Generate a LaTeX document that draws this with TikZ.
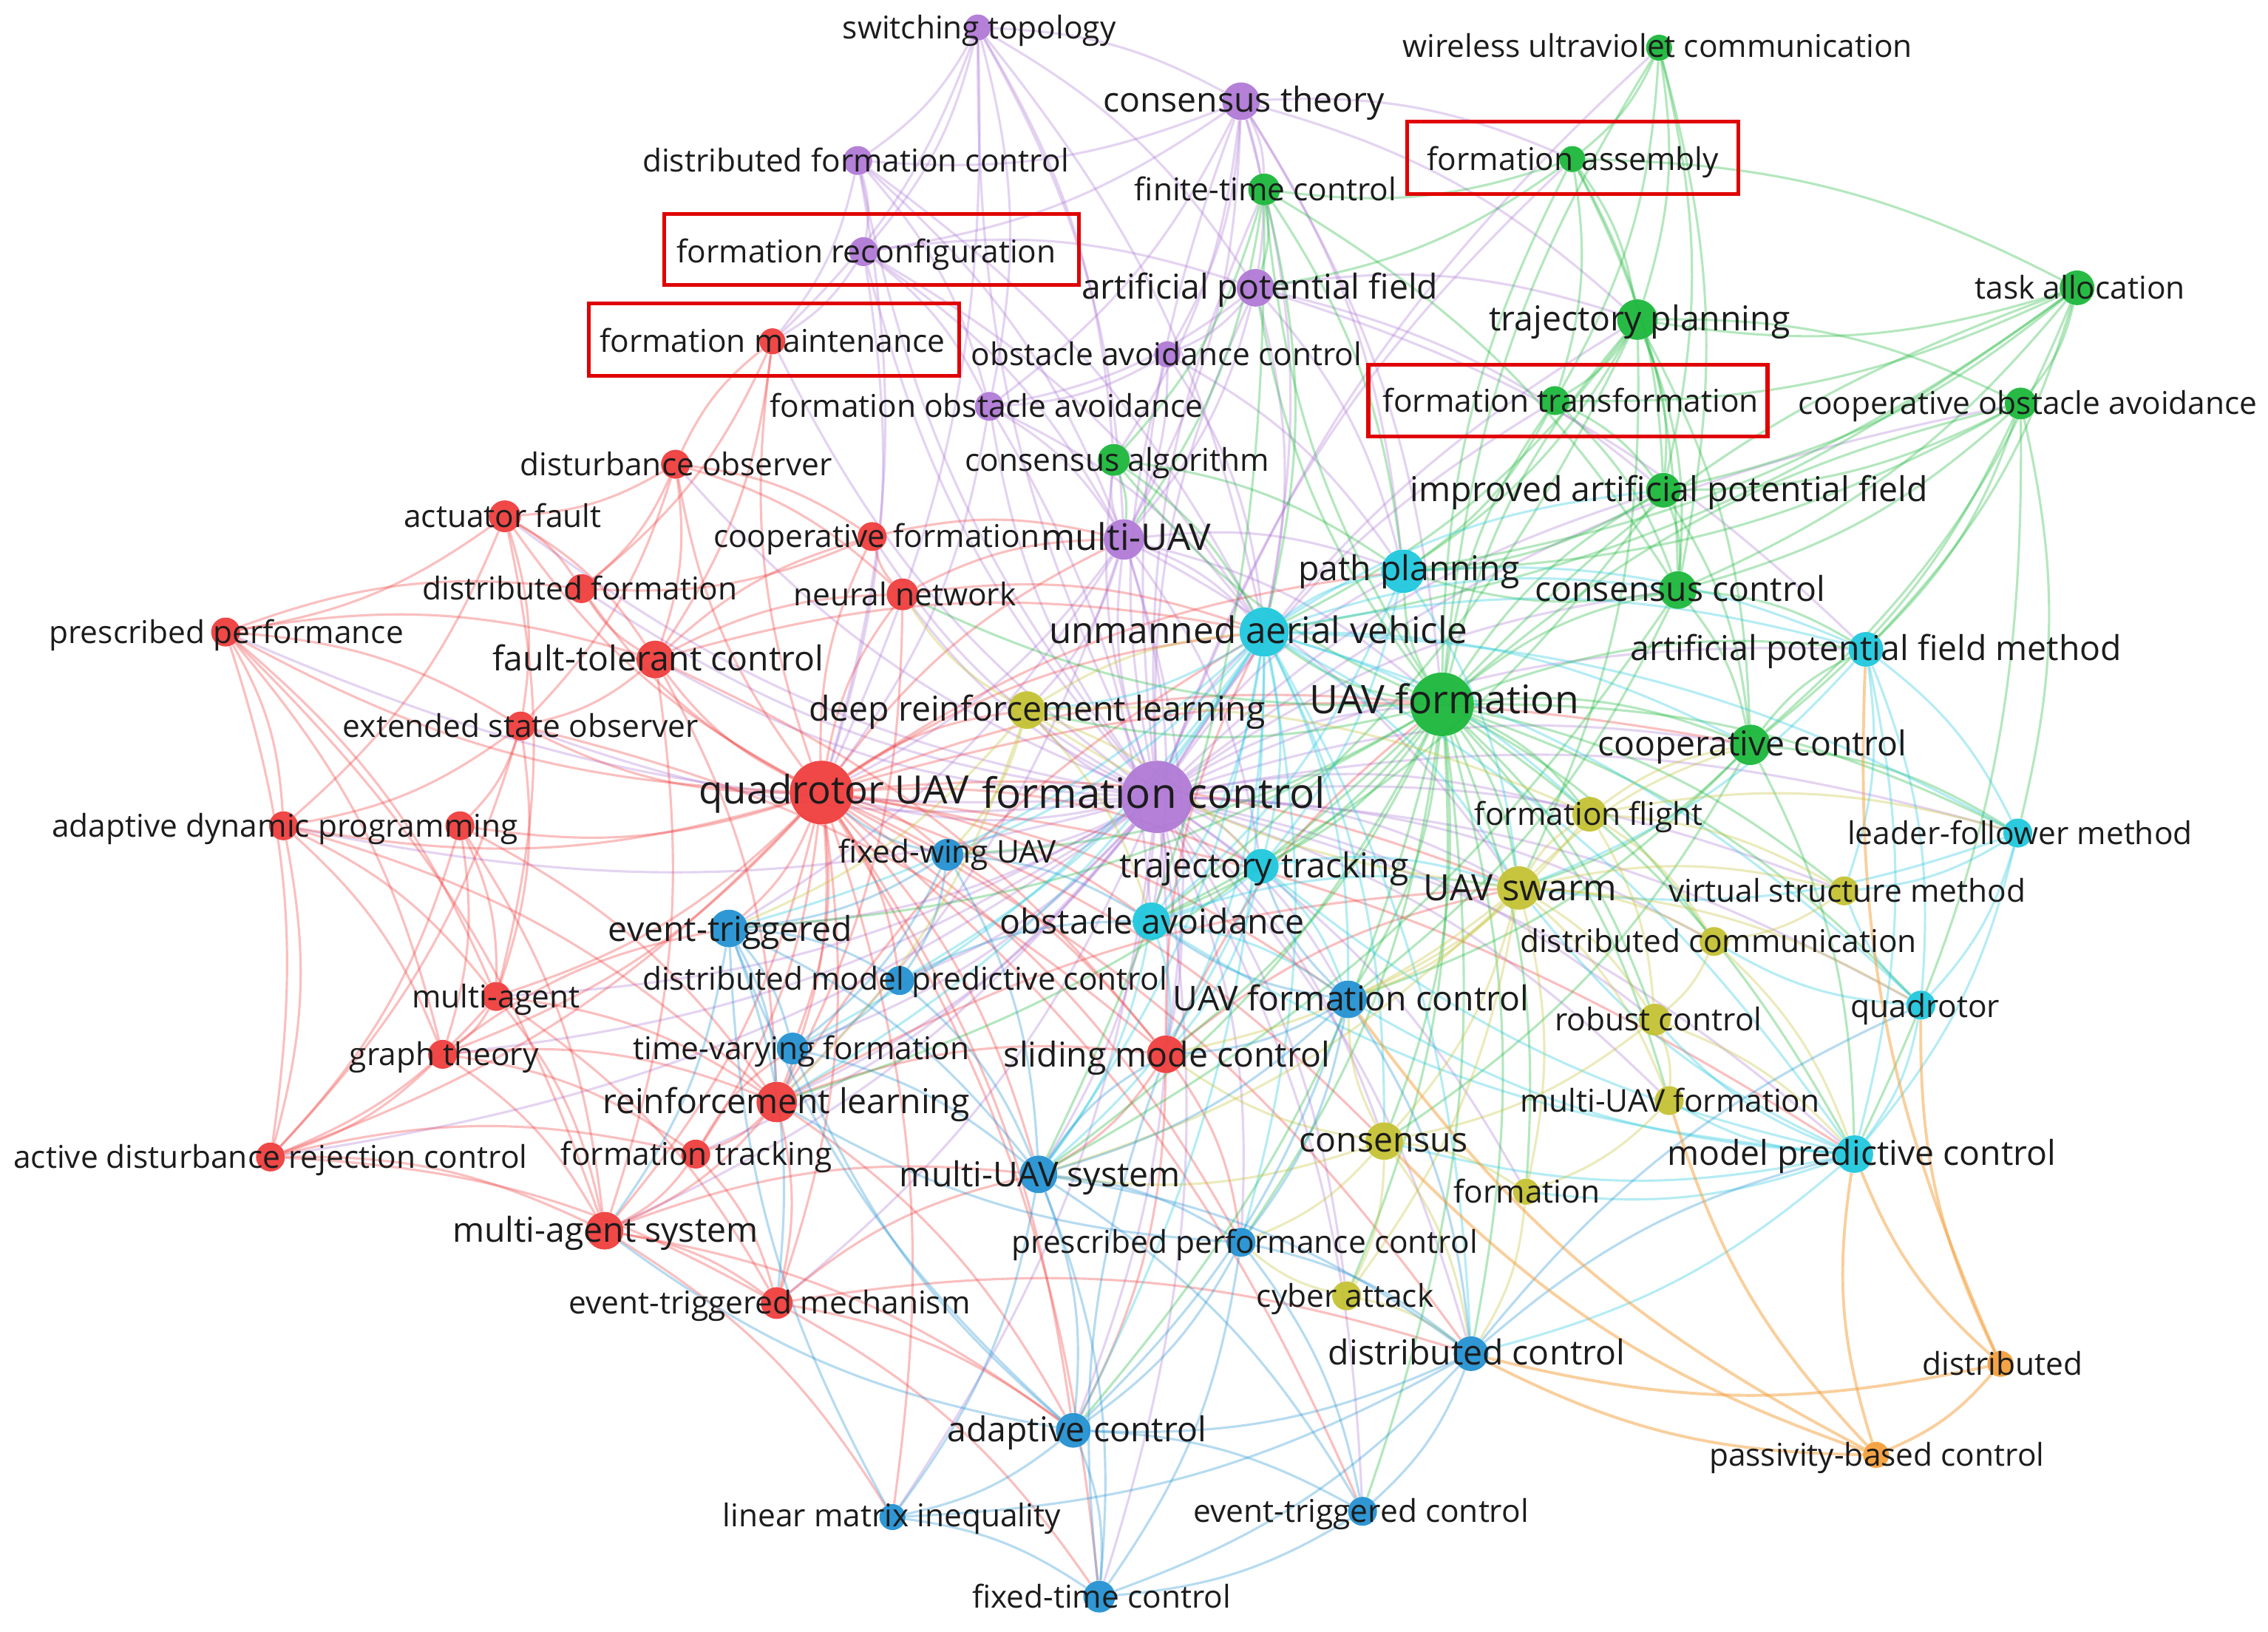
\documentclass[tikz,border=0pt]{standalone}
\usepackage{fontspec}
\setmainfont{Open Sans}
\pgfdeclarelayer{bg}
\pgfdeclarelayer{edges}
\pgfdeclarelayer{labels}
\pgfsetlayers{bg,edges,main,labels}
\definecolor{cR}{RGB}{240,62,62}
\definecolor{cP}{RGB}{176,122,214}
\definecolor{cG}{RGB}{28,184,60}
\definecolor{cB}{RGB}{36,146,210}
\definecolor{cC}{RGB}{32,200,222}
\definecolor{cY}{RGB}{196,194,52}
\definecolor{cO}{RGB}{245,160,60}
\definecolor{txt}{RGB}{28,28,28}
\definecolor{boxred}{RGB}{224,0,0}
\begin{document}
\begin{tikzpicture}[x=1pt,y=-1pt,
  kw/.style={circle,inner sep=0pt,draw=none,fill opacity=0.95},
  lbl/.style={inner sep=0pt,anchor=mid,text=txt,yshift=-5pt},
  redbox/.style={draw=boxred,line width=2.6pt,inner sep=0pt,fill=none},
  edgebase/.style={line width=1.6pt,draw opacity=0.33},
  eP/.style={edgebase,draw=cP},
  eR/.style={edgebase,draw=cR},
  eG/.style={edgebase,draw=cG},
  eC/.style={edgebase,draw=cC},
  eY/.style={edgebase,draw=cY},
  eB/.style={edgebase,draw=cB},
  eO/.style={edgebase,draw=cO,line width=2pt,draw opacity=0.5}]
\begin{pgfonlayer}{bg}
\fill[white] (0,0) rectangle (1568,1128);
\end{pgfonlayer}
\useasboundingbox (0,0) rectangle (1568,1128);

\foreach \n/\x/\y/\r/\c/\lx/\ly/\fs/\t in {
st/676/19/9/cP/677/19/21.7/switching topology,
wuc/1147/33/9/cG/1146/32/21.7/wireless ultraviolet communication,
ct/858/70/13/cP/860/70/23.7/consensus theory,
dfc/593/111/10/cP/591.5/111/21.7/distributed formation control,
fa/1087/110/9/cG/1087.5/110/21.7/formation assembly,
ftc/874/131/11/cG/875/131/21.7/finite-time control,
fr/597/174/10/cP/599/174/21.7/formation reconfiguration,
apf/868/199/13/cP/871/199/23.7/artificial potential field,
ta/1436/199/12/cG/1438/199/21.7/task allocation,
tp/1132/221/14/cG/1133.5/221/23.7/trajectory planning,
fm/534/236/9/cR/534/236/21.7/formation maintenance,
oac/807/245/9/cP/806.5/245/21.7/obstacle avoidance control,
ftr/1075/277/10/cG/1086/277/21.7/formation transformation,
coa/1397/279/11/cG/1402/279/21.7/cooperative obstacle avoidance,
foa/684/281/10/cP/682/281/21.7/formation obstacle avoidance,
do/467/321/10/cR/467.5/321/21.7/disturbance observer,
ca/770/318/11/cG/772.5/318/21.7/consensus algorithm,
iapf/1150/339/12/cG/1154/339/23.7/improved artificial potential field,
af/349/357/11/cR/347.5/357/21.7/actuator fault,
cf/603/371/10/cR/606/371/21.7/cooperative formation,
mu/777/373/14/cP/778.5/373/25.4/multi-UAV,
pp/970/395/15/cC/974/394/23.7/path planning,
df/402/407/10/cR/401/407/21.7/distributed formation,
nn/624/411/11/cR/625.5/411/21.7/neural network,
cc/1160/408/13/cG/1161.5/408/23.7/consensus control,
ppf/156/437/10/cR/156.5/437/21.7/prescribed performance,
uav/874/437/17/cC/870/437/25.3/unmanned aerial vehicle,
apfm/1290/449/12/cC/1297/449/23.7/artificial potential field method,
ftcl/453/456/13/cR/455/456/23.7/fault-tolerant control,
uf/997/487/22/cG/998.5/486/27.3/UAV formation,
drl/710/491/13/cY/717/491/23.7/deep reinforcement learning,
eso/360/502/10/cR/360/502/21.7/extended state observer,
coc/1210/515/14/cG/1211.5/515/23.7/cooperative control,
qu/568/548/22/cR/576.5/548/27/quadrotor UAV,
fc/800/551/25/cP/797.5/551/28.9/formation control,
ff/1099/563/12/cY/1098.5/563/21.7/formation flight,
adp/196/571/10/cR/197/571/21.7/adaptive dynamic programming,
lfm/1395/576/10/cC/1396.5/576/21.7/leader-follower method,
fw/655/591/11/cB/655/589/21.7/fixed-wing UAV,
tt/872/599/12/cC/874/599/23.7/trajectory tracking,
us/1050/614/15/cY/1051/615/25.1/UAV swarm,
vsm/1275/616/10/cY/1277/616/21.7/virtual structure method,
oa/796/637/13/cC/796.5/638/23.7/obstacle avoidance,
et/504/642/13/cB/505/643/23.7/event-triggered,
dcm/1185/651/10/cY/1188/651/21.7/distributed communication,
dmpc/622/678/10/cB/625.5/677/21.7/distributed model predictive control,
ma/343/689/10/cR/343/689/21.7/multi-agent,
ufc/932/691/13/cB/934/691/23.7/UAV formation control,
qr/1328/695/10/cC/1331/696/21.7/quadrotor,
rc/1144/705/11/cY/1146.5/705/21.7/robust control,
gt/306/729/10/cR/307/729/21.7/graph theory,
tvf/548/725/11/cB/554/725/21.7/time-varying formation,
smc/806/729/13/cR/806.5/730/23.7/sliding mode control,
rl/537/762/14/cR/543.5/762/23.7/reinforcement learning,
muf/1154/761/10/cY/1154.5/761/21.7/multi-UAV formation,
cs/957/789/13/cY/956.5/789/23.7/consensus,
mpc/1282/798/13/cC/1287/798/23.7/model predictive control,
adrc/187/800/10/cR/187/800/21.7/active disturbance rejection control,
ftk/481/798/10/cR/481.5/798/21.7/formation tracking,
mus/718/812/13/cB/719/813/23.7/multi-UAV system,
fo/1055/824/9/cY/1055.5/824/21.7/formation,
mas/418/851/13/cR/418.5/851/23.7/multi-agent system,
ppc/858/859/10/cB/860.5/859/21.7/prescribed performance control,
cya/931/896/10/cY/930/896/21.7/cyber attack,
etm/537/901/11/cR/532/901/21.7/event-triggered mechanism,
dc/1017/936/12/cB/1021/936/23.7/distributed control,
dis/1383/943/9/cO/1384.5/943/21.7/distributed,
ac/742/989/12/cB/744.5/989/23.7/adaptive control,
pbc/1297/1006/9/cO/1297.5/1006/21.7/passivity-based control,
lmi/617/1049/9/cB/616.5/1048/21.7/linear matrix inequality,
etc/942/1045/10/cB/941/1045/21.7/event-triggered control,
ftm/760/1104/11/cB/761.5/1104/21.7/fixed-time control}{
  \node[kw,fill=\c,minimum size=2*\r pt] (\n) at (\x,\y) {};
  \begin{pgfonlayer}{labels}
  \node[lbl,font=\fontsize{\fs}{\fs}\selectfont] (t-\n) at (\lx,\ly) {\t};
  \end{pgfonlayer}
}
\node[kw,fill=cR,minimum size=20pt] (adpb) at (318,571) {};

\begin{pgfonlayer}{labels}
\node[redbox,minimum width=229pt,minimum height=50pt] (bx-fa) at (1087.5,109) {};
\node[redbox,minimum width=287pt,minimum height=49pt] (bx-fr) at (602.5,172.5) {};
\node[redbox,minimum width=256pt,minimum height=50pt] (bx-fm) at (535,235) {};
\node[redbox,minimum width=276pt,minimum height=50pt] (bx-ftr) at (1084,277) {};
\end{pgfonlayer}

\begin{pgfonlayer}{edges}
\foreach \a/\b in {fc/st, fc/ct, fc/dfc, fc/fr, fc/apf, fc/oac, fc/foa, fc/mu, fc/ca, fc/ftc, fc/uav, fc/uf, fc/qu, fc/drl, fc/tt, fc/oa, fc/fw, fc/us, fc/ufc, fc/smc, fc/rl, fc/et, fc/dmpc, fc/tvf, fc/mus, fc/ppc, fc/cs, fc/ftcl, fc/cf, fc/nn, fc/fm, fc/do, fc/af, fc/df, fc/eso, fc/ma, fc/mas, fc/ftk, fc/etm, fc/ac, fc/dc, fc/pp, fc/coc, fc/cc, fc/ff, fc/mpc, fc/lfm, fc/vsm, fc/apfm, fc/iapf, fc/tp, fc/ftr, fc/fa, fc/coa, fc/ppf, fc/adp, fc/gt, fc/adrc, fc/lmi, fc/ftm, fc/etc, fc/cya, fc/fo, fc/muf, fc/rc, fc/qr, fc/dcm, fc/wuc,
st/ct, st/dfc, st/fr, st/mu, st/uav, st/ca, st/foa, st/apf, st/fm, ct/ftc, ct/apf, ct/mu, ct/oac, ct/uav, ct/ca, ct/dfc, ct/fr, ct/foa, ct/uf, ct/pp, dfc/fr, dfc/fm, dfc/foa, dfc/mu, dfc/qu, fr/fm, fr/foa, fr/mu, fr/apf, fr/qu, apf/oac, apf/mu, apf/foa, apf/uav, apf/tp, apf/pp, oac/mu, oac/foa, foa/mu, foa/qu, mu/uav, mu/qu, mu/drl, mu/ca, mu/oa, mu/uf, mu/tt, mu/smc,
mu/pp, mu/us, ct/tp, ct/fa, st/qu, dfc/uav, fr/uav, foa/uav, apf/iapf, apf/apfm, oac/uav, oac/pp, foa/oa, mu/rl, mu/et}
  {\draw[eP] (\a) to[bend left=13] (\b);}
\foreach \a/\b in {qu/fm, qu/do, qu/af, qu/cf, qu/df, qu/nn, qu/ppf, qu/ftcl, qu/eso, qu/adp, qu/adpb, qu/ma, qu/gt, qu/rl, qu/smc, qu/adrc, qu/ftk, qu/mas, qu/etm, qu/et, qu/dmpc, qu/tvf, qu/fw, qu/mus, qu/ac, qu/lmi, qu/ftm, qu/etc, qu/drl, qu/uav, qu/uf, qu/oa, qu/tt, qu/ufc, qu/ppc, qu/dc, qu/cs,
do/af, do/ftcl, do/df, do/eso, do/cf, do/fm, af/ftcl, af/ppf, af/df, af/eso, af/ma, ppf/ftcl, ppf/eso, ppf/adp, ppf/ma, ppf/gt, ppf/adrc, ppf/mas, ppf/df, ftcl/df, ftcl/eso, ftcl/nn, ftcl/cf, ftcl/smc, ftcl/rl, ftcl/mas, eso/adp, eso/ma, eso/adrc, eso/smc, eso/adpb, adp/ma, adp/gt, adp/adrc, adp/rl, adpb/ma, adpb/gt, adpb/mas, adpb/rl, adpb/adrc, ma/gt, ma/mas, ma/rl, ma/adrc, gt/mas, gt/adrc, gt/ftk, rl/mas, rl/etm, rl/ftk, rl/smc, adrc/mas, adrc/ftk, ftk/mas, mas/etm, etm/ac, etm/ftm, etm/dc, smc/ac, smc/ppc, smc/uf, nn/cf, nn/rl, cf/df, fm/ftcl, fm/df, nn/uav, ma/etm, gt/rl, adrc/etm, mas/ac, ftcl/uav, do/nn, af/adp, ftk/etm, mas/lmi, rl/ac,
qu/pp, qu/mu, qu/us, qu/mpc, qu/coc, smc/uav, smc/us, smc/mus, rl/uav, rl/us, nn/mu, cf/mu, mas/mus, etm/mus, ftk/tvf, gt/et}
  {\draw[eR] (\a) to[bend left=13] (\b);}
\foreach \a/\b in {uf/wuc, uf/fa, uf/ftc, uf/tp, uf/ta, uf/ftr, uf/coa, uf/ca, uf/iapf, uf/cc, uf/coc, uf/pp, uf/uav, uf/apfm, uf/ff, uf/us, uf/tt, uf/oa, uf/ufc, uf/cs, uf/lfm, uf/vsm, uf/dcm, uf/mpc, uf/qr, uf/rc, uf/muf, uf/fo, uf/mus, uf/dc, uf/apf, uf/drl, uf/ppc, uf/cya, uf/etc, uf/rl, uf/et,
wuc/fa, wuc/tp, wuc/ftr, wuc/iapf, wuc/cc, fa/tp, fa/ftr, fa/iapf, fa/cc, fa/ftc, fa/ta, ta/tp, ta/coa, ta/iapf, ta/cc, ta/coc, ta/apfm, ta/ftr, ta/pp, tp/ftr, tp/coa, tp/iapf, tp/cc, tp/coc, tp/pp, tp/uav, coa/iapf, coa/apfm, coa/coc, coa/cc, coa/pp, coa/lfm, ftr/iapf, ftr/cc, ftr/pp, iapf/cc, iapf/pp, iapf/coc, cc/coc, cc/apfm, cc/pp, coc/apfm, coc/lfm, ftc/ca, ftc/mu, ftc/uav, ftc/pp, ftc/cc, ca/uav, ca/mu, ca/pp, coc/us, coc/mpc, tp/us, ftc/apf, fa/apf, ta/uav, coa/mpc,
uf/smc, uf/ac, uf/fw, uf/nn, tp/oa, iapf/oa, cc/ufc, cc/mus, coc/cs, coc/ufc, ftc/mus}
  {\draw[eG] (\a) to[bend left=13] (\b);}
\foreach \a/\b in {uav/pp, uav/apfm, uav/tt, uav/oa, uav/lfm, uav/qr, uav/mpc, uav/us, uav/ff, uav/ufc, uav/smc, uav/fw, uav/et, uav/dmpc, uav/mus, uav/drl, uav/cs, uav/coc, uav/cc, uav/iapf, uav/dc, uav/ac, uav/ppc,
pp/apfm, pp/oa, pp/tt, apfm/lfm, apfm/qr, apfm/mpc, apfm/vsm, lfm/qr, lfm/mpc, lfm/vsm, qr/mpc, mpc/tt, mpc/oa, mpc/us, mpc/dc, mpc/cs, tt/oa, tt/us, oa/us, qr/dcm, lfm/us, mpc/muf, mpc/fo, tt/ufc, oa/ufc, pp/us, apfm/us,
uav/rl, uav/tvf, tt/mus, oa/mus, mpc/ufc, mpc/rc, qr/vsm, tt/smc, oa/smc}
  {\draw[eC] (\a) to[bend left=13] (\b);}
\foreach \a/\b in {us/drl, us/ff, us/vsm, us/dcm, us/rc, us/muf, us/cs, us/fo, us/cya, us/ufc, us/coc, us/qr, drl/tt, drl/oa, drl/ff, ff/vsm, ff/dcm, ff/rc, ff/coc, vsm/dcm, dcm/rc, rc/muf, muf/fo, cs/fo, cs/cya, cs/ppc, cs/dc, cs/ufc, cya/dc, cya/ppc, fo/dc, rc/cs, drl/rl, drl/nn, drl/uav, ff/lfm, rc/mpc, dcm/mpc, cs/mus,
us/mus, us/smc, cs/smc, drl/et, drl/fw, ff/ufc}
  {\draw[eY] (\a) to[bend left=13] (\b);}
\foreach \a/\b in {fw/et, fw/dmpc, fw/tvf, fw/mus, et/dmpc, et/tvf, et/mus, et/etm, et/mas, dmpc/tvf, dmpc/mus, tvf/mus, tvf/rl, ufc/mus, ufc/dc, ufc/ppc, ufc/smc, mus/ppc, mus/ac, mus/lmi, mus/ftm, mus/etc, mus/dc, ppc/dc, ppc/ac, ppc/ftm, ppc/etc, dc/ac, dc/etc, dc/ftm, dc/lmi, ac/lmi, ac/ftm, ac/etc, lmi/ftm, etc/ftm, ac/et, ac/tvf, lmi/et, ftm/smc, dc/mpc, ufc/ac, et/rl, fw/oa, dmpc/oa, ac/mas, dc/qr,
mus/smc, fw/qu, ufc/tt, ufc/oa, ppc/rl}
  {\draw[eB] (\a) to[bend left=13] (\b);}
\foreach \a/\b in {dis/pbc, dis/mpc, dis/dc, pbc/dc, pbc/mpc, dis/qr, pbc/ufc, dis/apfm, pbc/muf, pbc/cs}
  {\draw[eO] (\a) to[bend left=13] (\b);}
\end{pgfonlayer}
\end{tikzpicture}
\end{document}
